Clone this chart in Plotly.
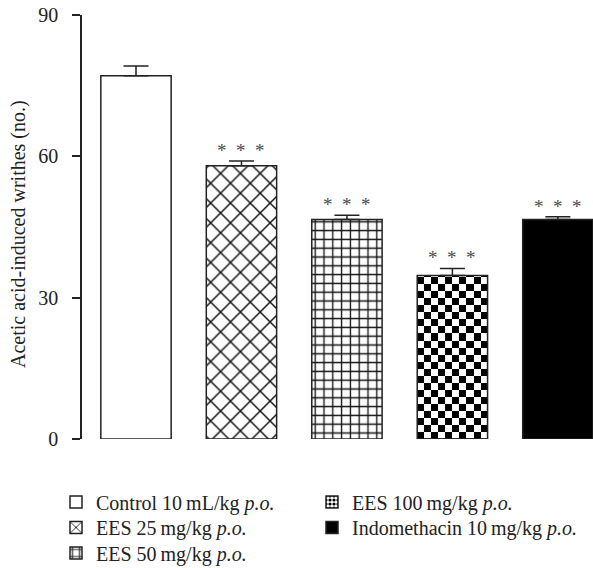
import base64
import math
import plotly.graph_objects as go

# ---- data ----
groups = ["Control 10\u2009mL/kg <i>p.o.</i>",
          "EES 25\u2009mg/kg <i>p.o.</i>",
          "EES 50\u2009mg/kg <i>p.o.</i>",
          "EES 100\u2009mg/kg <i>p.o.</i>",
          "Indomethacin 10\u2009mg/kg <i>p.o.</i>"]
writhes_mean = [77.1, 58.0, 46.6, 34.7, 46.6]
writhes_sem = [2.1, 1.0, 0.9, 1.5, 0.6]
significance = ["", "* * *", "* * *", "* * *", "* * *"]
y_ticks = [0, 30, 60, 90]
y_title = "Acetic acid-induced writhes (no.)"

# ---- layout constants ----
OFF = 0                       # page body margin removed via post_script
W, H = 593 - OFF, 568 - OFF
ML, MT = 82 - OFF, 15 - OFF
MR = 0
MB = H - (439 - OFF)
PW, PH = W - ML - MR, H - MT - MB
XR = [-0.512, 4.333]
YR = [0, 90]
BARW = 0.667
SERIF = "Liberation Serif, Times New Roman, serif"
EDGE = "#222222"
TXT = "#222222"

# legend placement (page px): left edge of each legend box and row centre
LEG_POS = [(56, 502), (56, 527.5), (56, 553), (312, 502), (312, 527.5)]
TITLE_POS = (18, 234)  # page px centre of the rotated y title

fills = [
    dict(color="white"),
    dict(color="white", pattern=dict(shape="x", size=14, solidity=0.2,
                                     fgcolor="#111111", bgcolor="white",
                                     fillmode="replace", fgopacity=1)),
    dict(color="white", pattern=dict(shape="+", size=8.8, solidity=0.28,
                                     fgcolor="#111111", bgcolor="white",
                                     fillmode="replace", fgopacity=1)),
    None,  # checkerboard drawn via image
    dict(color="black"),
]

fig = go.Figure()
legend_layouts = {}
for i, name in enumerate(groups):
    leg = "legend" if i == 0 else f"legend{i + 1}"
    lx, ly = LEG_POS[i]
    legend_layouts[leg] = dict(
        x=(lx - OFF) / W, y=1 - (ly - OFF) / H, xref="container", yref="container",
        xanchor="left", yanchor="middle", bgcolor="rgba(0,0,0,0)", borderwidth=0,
        font=dict(family=SERIF, size=20, color=TXT))
    if fills[i] is None:
        marker = dict(color="rgba(0,0,0,0)", line=dict(color=EDGE, width=1.5))
    else:
        marker = dict(**fills[i], line=dict(color=EDGE, width=1.5))
    fig.add_trace(go.Bar(
        x=[i], y=[writhes_mean[i]], width=BARW, name=name,
        marker=marker, legend=leg, showlegend=fills[i] is not None,
        error_y=dict(type="data", array=[writhes_sem[i]], arrayminus=[0],
                     symmetric=False, color="#222222", thickness=1.5, width=12.5),
    ))
    if fills[i] is None:
        # legend proxy for checkerboard bar (zero-height bar at the same spot)
        fig.add_trace(go.Bar(
            x=[i], y=[0], width=BARW, name=name, legend=leg,
            marker=dict(color="white", line=dict(color=EDGE, width=1.5),
                        pattern=dict(shape=".", size=5, solidity=0.5,
                                     fgcolor="black", bgcolor="white",
                                     fillmode="replace", fgopacity=1)),
        ))
        # checkerboard texture for the bar
        bar_px_w = BARW * PW / (XR[1] - XR[0])
        bar_px_h = writhes_mean[i] * PH / (YR[1] - YR[0])
        cols = 10
        sq = bar_px_w / cols
        rows_f = bar_px_h / sq
        rows = math.ceil(rows_f)
        rects = []
        for r in range(rows):
            for c in range(cols):
                if (r + c) % 2 == 0:
                    yy = rows_f - (r + 1)
                    rects.append(f'<rect x="{c}" y="{yy:.4f}" width="1" height="1"/>')
        svg = (f'<svg xmlns="http://www.w3.org/2000/svg" width="{cols}" height="{rows_f:.4f}" '
               f'viewBox="0 0 {cols} {rows_f:.4f}" preserveAspectRatio="none" shape-rendering="crispEdges">'
               f'<rect width="{cols}" height="{rows_f:.4f}" fill="white"/><g fill="black">'
               + "".join(rects) + '</g></svg>')
        src = "data:image/svg+xml;base64," + base64.b64encode(svg.encode()).decode()
        fig.add_layout_image(dict(
            source=src, xref="x", yref="y", x=i - BARW / 2, y=writhes_mean[i],
            sizex=BARW, sizey=writhes_mean[i], sizing="stretch",
            xanchor="left", yanchor="top", layer="below",
        ))

for i, s in enumerate(significance):
    if s:
        fig.add_annotation(
            x=i, y=writhes_mean[i] + writhes_sem[i], text=s.replace(" ", "\u00a0\u00a0"),
            showarrow=False, yanchor="bottom", yshift=-2,
            font=dict(family=SERIF, size=19, color="#4a4a4a"),
        )

# rotated y-axis title
fig.add_annotation(
    xref="paper", yref="paper",
    x=(TITLE_POS[0] - OFF - ML) / PW, y=1 - (TITLE_POS[1] - OFF - MT) / PH,
    xanchor="center", yanchor="middle", textangle=-90, showarrow=False,
    text=y_title, font=dict(family=SERIF, size=20, color=TXT),
)

fig.update_layout(
    width=W, height=H,
    margin=dict(l=ML, r=MR, t=MT, b=MB, pad=0, autoexpand=False),
    paper_bgcolor="white", plot_bgcolor="rgba(0,0,0,0)",
    barmode="overlay",
    font=dict(family=SERIF, size=20, color=TXT),
    xaxis=dict(range=XR, showticklabels=False, ticks="", showline=False,
               showgrid=False, zeroline=False, fixedrange=True, automargin=False),
    yaxis=dict(range=YR, tickvals=y_ticks, ticks="outside", ticklen=8,
               tickwidth=1.5, tickcolor=EDGE, showline=True, linewidth=1.5,
               linecolor=EDGE, showgrid=False, zeroline=False, automargin=False,
               ticklabelstandoff=10, ticklabeloverflow="allow",
               tickfont=dict(family=SERIF, size=20, color=TXT)),
    **legend_layouts,
)

fig.write_html("out.html",
               config={"displayModeBar": False},
               post_script="document.body.style.margin='0';document.body.style.overflow='hidden';")
